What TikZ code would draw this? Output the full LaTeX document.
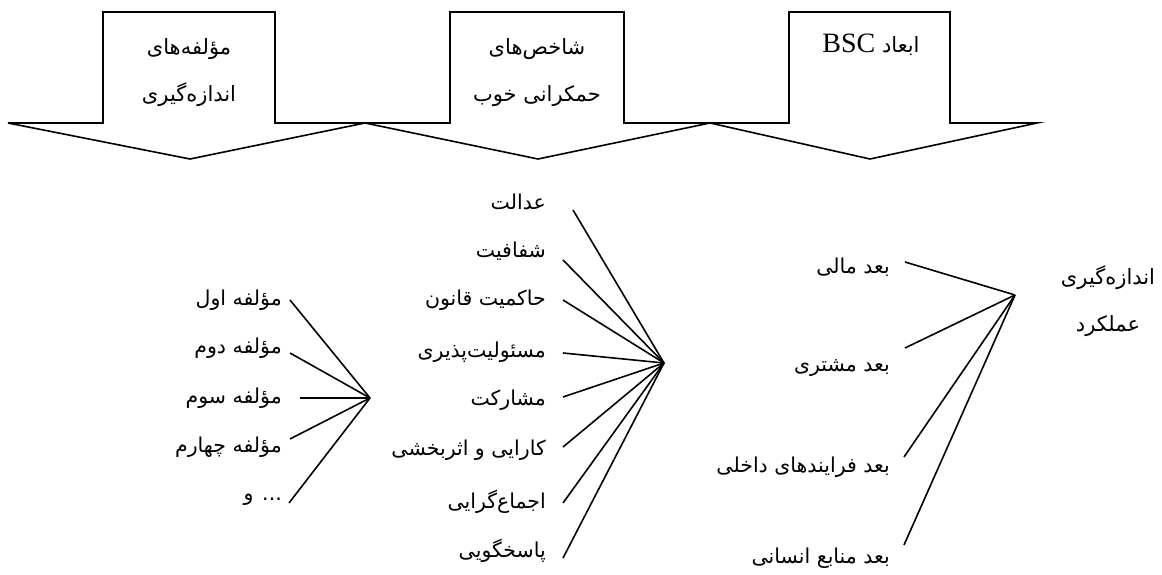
\documentclass[tikz,border=0pt]{standalone}
\usepackage{fontspec}
\newfontfamily\arabicfont[Script=Arabic]{DejaVu Sans}
\newfontfamily\latinfont{Liberation Serif}
\TeXXeTstate=1
\usetikzlibrary{positioning}
\newcommand{\fatext}[1]{{\arabicfont\beginR #1\endR}}

\tikzset{
  lbl/.style={anchor=east, inner sep=0pt, font=\arabicfont\fontsize{20.5}{24}\selectfont},
  boxtxt/.style={align=center, inner sep=0pt, font=\arabicfont\fontsize{21}{47}\selectfont},
  fan/.style={line width=1.6pt}
}

\begin{document}
\begin{tikzpicture}[x=1pt, y=-1pt]
\useasboundingbox (0,0) rectangle (1162,575);

% banner with three tabs
\draw[line width=1.6pt]
  (8,123) -- (103,123) -- (103,12) -- (275,12) -- (275,123)
  -- (450,123) -- (450,12) -- (624,12) -- (624,123)
  -- (789,123) -- (789,12) -- (950,12) -- (950,123) -- (1037,123)
  -- (870,159) -- (710,123) -- (538,159) -- (365,123) -- (190,159) -- cycle;

\node[boxtxt] (tab1) at (189,73) {\fatext{مؤلفه‌های}\\\fatext{اندازه‌گیری}};
\node[boxtxt] (tab2) at (537,73) {\fatext{شاخص‌های}\\\fatext{حمکرانی خوب}};
\node[boxtxt] (tab3) at (871,45) {\fatext{ابعاد {\latinfont\fontsize{28}{30}\selectfont\beginL BSC\endL}}};

% components
\node[lbl] (a1) at (282,300) {\fatext{مؤلفه اول}};
\node[lbl] (a2) at (282,348) {\fatext{مؤلفه دوم}};
\node[lbl] (a3) at (282,398) {\fatext{مؤلفه سوم}};
\node[lbl] (a4) at (282,447) {\fatext{مؤلفه چهارم}};
\node[lbl] (a5) at (282,500) {\fatext{... و}};
\coordinate (hubA) at (370,398);

% good governance
\node[lbl] (g1) at (546,202) {\fatext{عدالت}};
\node[lbl] (g2) at (546,251) {\fatext{شفافیت}};
\node[lbl] (g3) at (546,300) {\fatext{حاکمیت قانون}};
\node[lbl] (g4) at (546,352) {\fatext{مسئولیت‌پذیری}};
\node[lbl] (g5) at (546,400) {\fatext{مشارکت}};
\node[lbl] (g6) at (546,450) {\fatext{کارایی و اثربخشی}};
\node[lbl] (g7) at (546,502) {\fatext{اجماع‌گرایی}};
\node[lbl] (g8) at (546,551) {\fatext{پاسخگویی}};
\coordinate (hubG) at (664,363);

% BSC
\node[lbl] (d1) at (890,267) {\fatext{بعد مالی}};
\node[lbl] (d2) at (890,368) {\fatext{بعد مشتری}};
\node[lbl] (d3) at (890,467) {\fatext{بعد فرایندهای داخلی}};
\node[lbl] (d4) at (890,558) {\fatext{بعد منابع انسانی}};
\coordinate (hubD) at (1015,295);
\node[boxtxt] (perf) at (1108,301) {\fatext{اندازه‌گیری}\\\fatext{عملکرد}};

\draw[fan]
  ([xshift=8]a1.east) edge (hubA)
  ([xshift=8, yshift=-5]a2.east) edge (hubA)
  ([xshift=18]a3.east) edge (hubA)
  ([xshift=8, yshift=8]a4.east) edge (hubA)
  ([xshift=7, yshift=-3]a5.east) edge (hubA);

\draw[fan]
  ([xshift=27, yshift=-8]g1.east) edge (hubG)
  ([xshift=17, yshift=-9]g2.east) edge (hubG)
  ([xshift=17]g3.east) edge (hubG)
  ([xshift=17, yshift=-1]g4.east) edge (hubG)
  ([xshift=17, yshift=3]g5.east) edge (hubG)
  ([xshift=17, yshift=3]g6.east) edge (hubG)
  ([xshift=17, yshift=-1]g7.east) edge (hubG)
  ([xshift=17, yshift=-7]g8.east) edge (hubG);

\draw[fan]
  ([xshift=15, yshift=5]d1.east) edge (hubD)
  ([xshift=15, yshift=20]d2.east) edge (hubD)
  ([xshift=14, yshift=10]d3.east) edge (hubD)
  ([xshift=14, yshift=13]d4.east) edge (hubD);
\end{tikzpicture}
\end{document}
